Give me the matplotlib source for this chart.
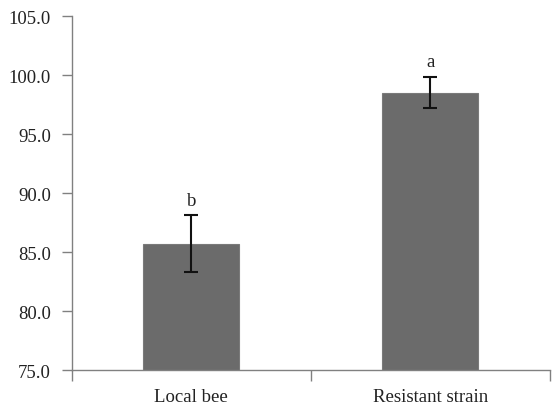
import matplotlib.pyplot as plt
from matplotlib.ticker import FixedLocator

# data
groups = ['Local bee', 'Resistant strain']
means = [85.7, 98.5]
errs = [2.4, 1.3]
letters = ['b', 'a']

plt.rcParams['font.family'] = ['Liberation Serif', 'DejaVu Serif']
plt.rcParams['font.size'] = 13.5

fig = plt.figure(figsize=(5.52, 4.06), dpi=100)
ax = fig.add_axes([0.130, 0.086, 0.866, 0.872])

x = list(range(len(groups)))
ax.bar(x, means, width=0.4, color='#6b6b6b', edgecolor='#7a7a7a', linewidth=0.8, zorder=2)
ax.errorbar(x, means, yerr=errs, fmt='none', ecolor='#111111', elinewidth=1.5,
            capsize=4.7, capthick=1.5, zorder=3)

for xi, m, e, lt in zip(x, means, errs, letters):
    ax.annotate(lt, (xi, m + e), xytext=(0, 5), textcoords='offset points',
                ha='center', va='bottom', fontsize=13.5, color='#222222')

ax.set_xlim(-0.5, 1.5)
ax.set_ylim(75, 105)
ax.set_yticks([75, 80, 85, 90, 95, 100, 105])
ax.set_yticklabels(['%.1f' % v for v in [75, 80, 85, 90, 95, 100, 105]])

ax.set_xticks(x)
ax.set_xticklabels(groups)
ax.xaxis.set_minor_locator(FixedLocator([-0.5, 0.5, 1.5]))
ax.tick_params(axis='x', which='major', length=0, pad=13, labelcolor='#222222')
ax.tick_params(axis='x', which='minor', length=8, width=1, color='#808080', direction='out')
ax.tick_params(axis='y', length=7, width=1, color='#808080', pad=8, labelcolor='#222222')

for side in ['top', 'right']:
    ax.spines[side].set_visible(False)
for side in ['left', 'bottom']:
    ax.spines[side].set_color('#808080')
    ax.spines[side].set_linewidth(1)

fig.savefig('out.png', dpi=100)
